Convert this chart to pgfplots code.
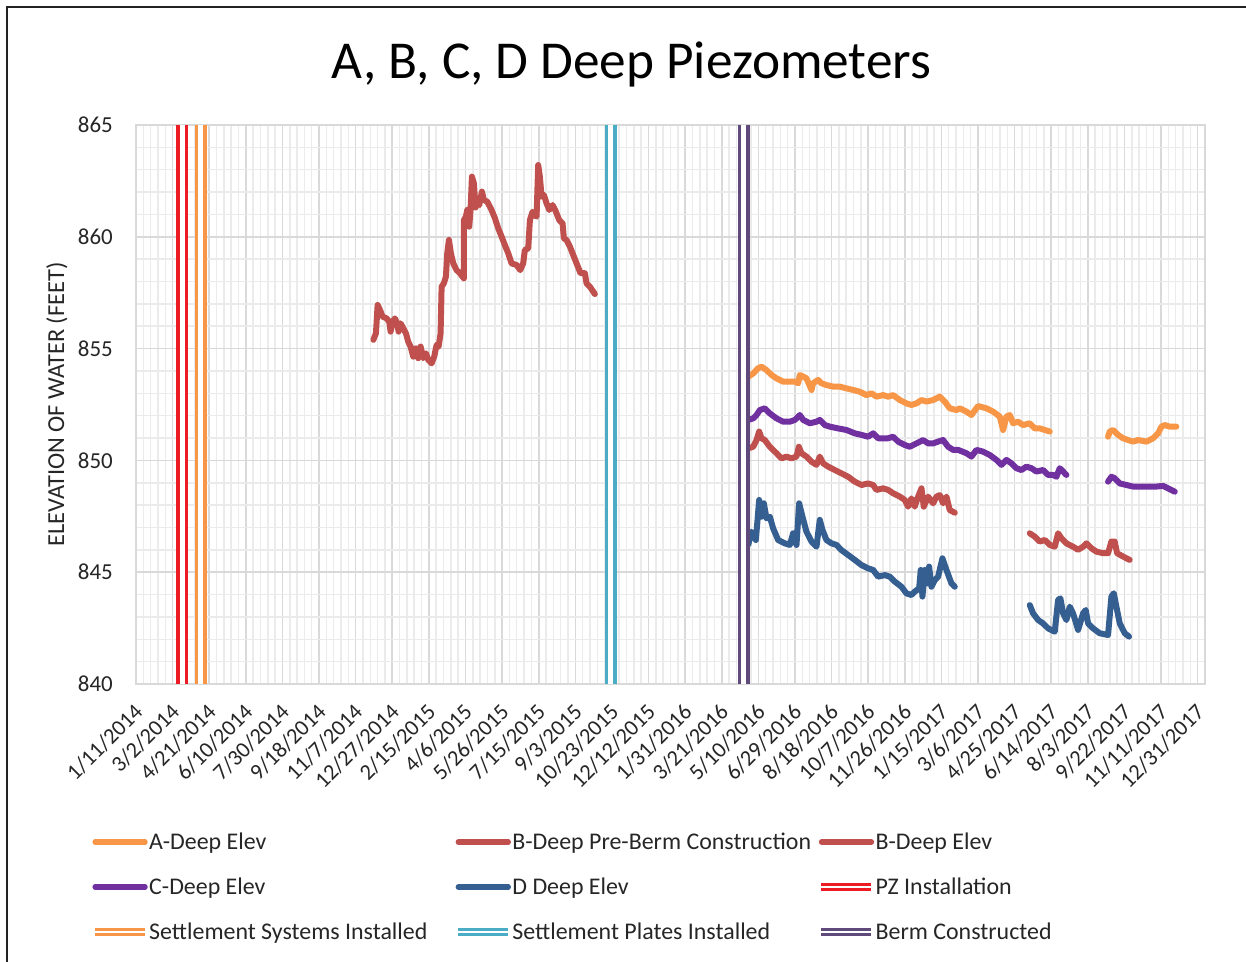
\documentclass[border=0pt]{standalone}
\usepackage{fontspec}
\setmainfont{Carlito}
\usepackage{pgfplots}
\pgfplotsset{compat=1.18}
\definecolor{aorange}{HTML}{F79646}
\definecolor{bred}{HTML}{C0504D}
\definecolor{cpurple}{HTML}{7030A0}
\definecolor{dblue}{HTML}{365F91}
\definecolor{pzred}{HTML}{ED1C24}
\definecolor{platecyan}{HTML}{4BACC6}
\definecolor{bermpurple}{HTML}{604A7B}
\definecolor{gridmaj}{HTML}{D9D9D9}
\definecolor{gridmin}{HTML}{EBEBEB}
\definecolor{framec}{HTML}{222222}
\definecolor{textc}{HTML}{262626}
\newcommand{\legtext}[1]{\makebox[305bp][l]{#1}}
\begin{document}
\begin{tikzpicture}
\useasboundingbox (0,0) rectangle (1246bp,962bp);
\fill[white] (0,0) rectangle (1246bp,962bp);
\draw[line width=2.6bp, color=framec, line join=miter] (7bp,0bp) -- (7bp,955bp) -- (1246bp,955bp);
\begin{axis}[
  at={(136bp,278bp)}, anchor=south west,
  width=1069bp, height=559bp, scale only axis,
  xmin=0, xmax=1460, ymin=840, ymax=865,
  xtick={0,50,...,1450},
  xticklabels={1/11/2014,3/2/2014,4/21/2014,6/10/2014,7/30/2014,9/18/2014,11/7/2014,12/27/2014,2/15/2015,4/6/2015,5/26/2015,7/15/2015,9/3/2015,10/23/2015,12/12/2015,1/31/2016,3/21/2016,5/10/2016,6/29/2016,8/18/2016,10/7/2016,11/26/2016,1/15/2017,3/6/2017,4/25/2017,6/14/2017,8/3/2017,9/22/2017,11/11/2017,12/31/2017},
  ytick={840,845,...,865},
  minor x tick num=4, minor y tick num=4,
  grid=both,
  major grid style={draw=gridmaj, line width=1.6bp},
  minor grid style={draw=gridmin, line width=1.5bp},
  axis line style={draw=gridmaj, line width=1.6bp},
  major tick length=0pt, minor tick length=0pt,
  tick style={draw=none},
  /pgf/number format/assume math mode=true,
  yticklabel style={font=\fontsize{23}{27}\selectfont, text=textc, inner sep=0pt, xshift=-23bp, anchor=east},
  xticklabel style={font=\fontsize{22.5}{26}\selectfont, text=textc, inner sep=0pt, yshift=-24bp, xshift=3bp, rotate=45, anchor=east},
  ylabel={ELEVATION OF WATER (FEET)},
  every axis y label/.style={at={(axis description cs:-0.0739,0.5)}, anchor=center, rotate=90, font=\fontsize{24.5}{28}\selectfont, text=textc},
  title={A, B, C, D Deep Piezometers},
  title style={font=\fontsize{53.5}{62}\selectfont, text=black, at={(axis description cs:0.4635,1.0733)}, anchor=base, inner sep=0pt},
  unbounded coords=jump,
  legend columns=3,
  legend cell align=left,
  legend style={draw=none, fill=none, at={(axis description cs:-0.0421,-0.2424)}, anchor=north west,
    inner sep=0pt, outer sep=0pt, nodes={inner sep=0pt, outer sep=0pt, text=textc, text height=30bp, text depth=15bp},
    column sep=0pt, row sep=0pt,
    /tikz/every odd column/.append style={column sep=0bp},
    font=\fontsize{24}{29}\selectfont},
]
% A-Deep Elev
\addplot[aorange, line width=6bp, line join=round, line cap=round,
  legend image code/.code={\draw[aorange, line width=5.3bp] (0bp,0bp) -- (50bp,0bp);}] coordinates {
(830.2,853.82) (836.1,853.74) (842.9,853.89) (849.7,854.12) (854.3,854.19) (861.1,854.04) (868.0,853.82) (874.8,853.67) (883.9,853.52) (893.0,853.52) (899.8,853.52) (904.4,853.45) (906.6,853.82) (915.7,853.67) (922.6,853.15) (924.8,853.45) (931.7,853.60) (936.2,853.45) (943.0,853.37) (952.1,853.30) (961.2,853.30) (970.3,853.22) (979.4,853.15) (988.6,853.07) (997.7,852.92) (1004.5,853.00) (1011.3,852.85) (1020.4,852.92) (1027.2,852.85) (1034.1,852.92) (1043.2,852.70) (1052.3,852.55) (1059.1,852.48) (1065.9,852.55) (1072.8,852.70) (1079.6,852.63) (1088.7,852.70) (1097.8,852.85) (1104.6,852.63) (1111.4,852.33) (1120.5,852.25)
(1125.1,852.33) (1134.2,852.18) (1141.0,852.03) (1150.1,852.43) (1161.5,852.33) (1170.6,852.18) (1179.7,851.96) (1184.3,851.36) (1188.8,851.96) (1193.4,852.03) (1197.9,851.66) (1204.7,851.73) (1211.6,851.58) (1220.7,851.66) (1227.5,851.43) (1234.3,851.43) (1241.2,851.36) (1248.0,851.29)
(1290,nan)
(1327.6,851.06) (1329.9,851.29) (1334.5,851.36) (1341.3,851.14) (1348.1,850.99) (1355.0,850.91) (1361.8,850.84) (1368.6,850.91) (1380.0,850.84) (1389.1,850.99) (1395.9,851.21) (1400.5,851.51) (1405.0,851.58) (1411.8,851.51) (1420.9,851.51)
};
\addlegendentry{\legtext{A-Deep Elev}}
% B-Deep Pre-Berm Construction
\addplot[bred, line width=6bp, line join=round, line cap=round,
  legend image code/.code={\draw[bred, line width=5.3bp] (0bp,0bp) -- (50bp,0bp);}] coordinates {
(324.1,855.39) (327.7,855.68) (330.0,856.95) (333.2,856.73) (336.8,856.43) (342.3,856.35) (345.9,856.20) (347.7,855.76) (350.5,856.20) (353.6,856.35) (356.8,856.13) (358.6,855.76) (361.4,856.13) (365.0,855.91) (368.7,855.68) (371.8,855.31) (375.0,855.09) (378.7,854.64) (382.3,855.01) (385.5,854.57) (388.7,855.09) (392.3,854.57) (396.0,854.79) (399.2,854.49) (403.7,854.34) (407.3,854.64) (410.5,855.16) (413.3,855.09) (416.0,855.68) (417.4,857.77) (420.5,857.92) (423.3,858.22) (425.1,859.26) (427.4,859.86) (430.1,859.26) (433.3,858.81) (437.8,858.51) (442.4,858.37) (447.8,858.14) (447.9,860.75) (450.6,860.90) (452.4,861.20) (455.1,860.45) (456.9,861.20) (458.8,862.69) (461.5,862.39) (463.8,861.31) (466.0,861.50) (468.8,861.42) (472.4,862.02) (475.2,861.65) (479.7,861.57) (485.6,861.20) (490.2,860.83) (494.7,860.38) (499.3,860.01) (503.8,859.63) (508.4,859.26) (512.9,858.81) (519.8,858.74) (524.8,858.51) (528.8,858.81) (531.1,859.41) (535.7,859.48) (538.0,860.75) (541.6,861.12) (544.8,860.97) (547.1,860.90) (549.3,863.21) (551.6,862.69) (553.9,861.79) (557.1,861.87) (560.7,861.50) (564.4,861.20) (568.9,861.42) (573.5,861.12) (578.0,860.75) (582.6,860.60) (584.4,859.93) (588.0,859.86) (592.6,859.56) (597.1,859.19) (602.6,858.74) (607.1,858.37) (613.1,858.37) (615.3,857.92) (619.9,857.77) (626.7,857.44)
};
\addlegendentry{\legtext{B-Deep Pre-Berm Construction}}
% B-Deep Elev
\addplot[bred, line width=6bp, line join=round, line cap=round,
  legend image code/.code={\draw[bred, line width=5.3bp] (0bp,0bp) -- (50bp,0bp);}] coordinates {
(830.2,850.76) (836.1,850.54) (842.9,850.61) (847.5,850.91) (851.1,851.29) (854.3,850.99) (858.8,850.91) (865.7,850.61) (874.8,850.32) (881.6,850.09) (888.4,850.17) (895.2,850.09) (902.1,850.17) (905.3,850.61) (908.9,850.32) (915.7,850.17) (922.6,849.94) (929.4,849.80) (933.9,850.17) (938.5,849.87) (945.3,849.72) (954.4,849.57) (963.5,849.42) (972.6,849.27) (981.7,849.05) (990.8,848.90) (999.9,848.97) (1006.8,848.90) (1011.3,848.68) (1020.4,848.75) (1027.2,848.68) (1034.1,848.53) (1043.2,848.38) (1050.0,848.23) (1054.5,847.93) (1059.1,848.30) (1063.6,847.93) (1068.2,848.38) (1072.8,848.75) (1075.9,847.93) (1081.9,848.38) (1088.7,848.08) (1093.2,848.38) (1097.8,848.45) (1102.3,848.08) (1106.9,848.38) (1111.4,847.78) (1118.3,847.66)
(1170,nan)
(1220.7,846.74) (1227.5,846.59) (1234.3,846.37) (1241.2,846.44) (1248.0,846.22) (1254.8,846.14) (1259.4,846.74) (1263.9,846.52) (1270.7,846.29) (1279.8,846.14) (1286.7,846.00) (1293.5,846.14) (1298.0,846.29) (1304.9,846.07) (1311.7,845.92) (1320.8,845.85) (1327.6,845.85) (1332.2,846.37) (1336.7,846.37) (1339.9,845.85) (1348.1,845.70) (1357.2,845.55)
};
\addlegendentry{\legtext{B-Deep Elev}}
% C-Deep Elev
\addplot[cpurple, line width=6bp, line join=round, line cap=round,
  legend image code/.code={\draw[cpurple, line width=5.3bp] (0bp,0bp) -- (50bp,0bp);}] coordinates {
(830.2,851.96) (836.1,851.81) (842.9,851.88) (847.5,852.03) (852.0,852.25) (858.8,852.33) (865.7,852.10) (874.8,851.88) (883.9,851.73) (893.0,851.73) (899.8,851.81) (906.6,852.03) (911.2,851.81) (920.3,851.66) (929.4,851.73) (933.9,851.81) (940.8,851.58) (947.6,851.51) (959.0,851.43) (970.3,851.36) (981.7,851.21) (990.8,851.14) (999.9,851.06) (1006.8,851.21) (1013.6,850.99) (1020.4,850.99) (1027.2,850.99) (1034.1,851.06) (1040.9,850.84) (1050.0,850.69) (1056.8,850.61) (1065.9,850.76) (1075.0,850.91) (1081.9,850.76) (1088.7,850.76) (1095.5,850.84) (1102.3,850.91) (1109.2,850.61) (1116.0,850.47) (1122.8,850.47)
(1134.2,850.32) (1141.0,850.17) (1147.9,850.47) (1157.0,850.39) (1166.1,850.24) (1175.2,850.02) (1182.0,849.80) (1188.8,850.02) (1195.6,849.87) (1202.5,849.65) (1209.3,849.57) (1216.1,849.72) (1223.0,849.65) (1229.8,849.50) (1238.9,849.57) (1245.7,849.35) (1252.5,849.35) (1257.1,849.27) (1261.6,849.65) (1266.2,849.50) (1270.7,849.35)
(1300,nan)
(1327.6,849.05) (1332.2,849.27) (1336.7,849.20) (1343.6,848.97) (1352.7,848.90) (1361.8,848.83) (1373.1,848.83) (1384.5,848.83) (1393.6,848.83) (1402.7,848.86) (1409.6,848.75) (1418.7,848.60)
};
\addlegendentry{\legtext{C-Deep Elev}}
% D Deep Elev
\addplot[dblue, line width=6bp, line join=round, line cap=round,
  legend image code/.code={\draw[dblue, line width=5.3bp] (0bp,0bp) -- (50bp,0bp);}] coordinates {
(830.2,846.44) (836.1,846.22) (840.6,846.81) (846.6,846.44) (851.1,848.23) (854.3,847.48) (857.5,848.08) (861.1,847.41) (865.7,847.48) (870.2,846.96) (877.0,846.44) (886.1,846.29) (893.0,846.22) (897.5,846.74) (902.1,846.22) (905.7,848.08) (910.3,847.48) (915.7,846.81) (922.6,846.37) (929.4,846.14) (933.9,847.34) (937.6,846.89) (943.0,846.44) (949.9,846.29) (956.7,846.22) (963.5,845.99) (972.6,845.77) (981.7,845.55) (990.8,845.32) (999.9,845.17) (1006.8,845.10) (1013.6,844.80) (1022.7,844.87) (1029.5,844.80) (1036.3,844.58) (1045.4,844.35) (1052.3,844.05) (1059.1,843.98) (1063.6,844.13) (1069.6,844.28) (1071.8,845.10) (1074.1,843.91) (1077.3,845.10) (1080.5,844.50) (1083.2,845.25) (1086.4,844.35) (1091.0,844.65) (1095.5,844.80) (1101.4,845.62) (1106.9,845.10) (1113.7,844.50) (1118.3,844.35)
(1170,nan)
(1220.7,843.53) (1225.2,843.16) (1232.1,842.86) (1238.9,842.71) (1245.7,842.49) (1254.8,842.34) (1259.4,843.76) (1262.5,843.83) (1266.2,843.16) (1270.7,842.86) (1275.3,843.46) (1279.8,843.16) (1286.7,842.42) (1293.5,843.16) (1297.1,843.31) (1300.3,842.71) (1307.1,842.49) (1316.2,842.27) (1327.6,842.19) (1332.2,843.91) (1335.4,844.06) (1339.0,843.46) (1343.6,842.71) (1350.4,842.27) (1356.3,842.12)
};
\addlegendentry{\legtext{D Deep Elev}}
% PZ Installation
\addplot[pzred, line width=3.6bp, double=white, double distance=4.8bp, line cap=butt,
  legend image code/.code={\draw[pzred, line width=2.8bp, double=white, double distance=2.6bp] (0bp,0bp) -- (50bp,0bp);}] coordinates {(63.5,840) (63.5,865)};
\addlegendentry{\legtext{PZ Installation}}
% Settlement Systems Installed
\addplot[aorange, line width=3.6bp, double=white, double distance=4.8bp, line cap=butt,
  legend image code/.code={\draw[aorange, line width=2.8bp, double=white, double distance=2.6bp] (0bp,0bp) -- (50bp,0bp);}] coordinates {(88.5,840) (88.5,865)};
\addlegendentry{\legtext{Settlement Systems Installed}}
% Settlement Plates Installed
\addplot[platecyan, line width=3.6bp, double=white, double distance=4.8bp, line cap=butt,
  legend image code/.code={\draw[platecyan, line width=2.8bp, double=white, double distance=2.6bp] (0bp,0bp) -- (50bp,0bp);}] coordinates {(648.3,840) (648.3,865)};
\addlegendentry{\legtext{Settlement Plates Installed}}
% Berm Constructed
\addplot[bermpurple, line width=3.6bp, double=white, double distance=4.8bp, line cap=butt,
  legend image code/.code={\draw[bermpurple, line width=2.8bp, double=white, double distance=2.6bp] (0bp,0bp) -- (50bp,0bp);}] coordinates {(830.1,840) (830.1,865)};
\addlegendentry{\legtext{Berm Constructed}}
\end{axis}
\end{tikzpicture}
\end{document}
